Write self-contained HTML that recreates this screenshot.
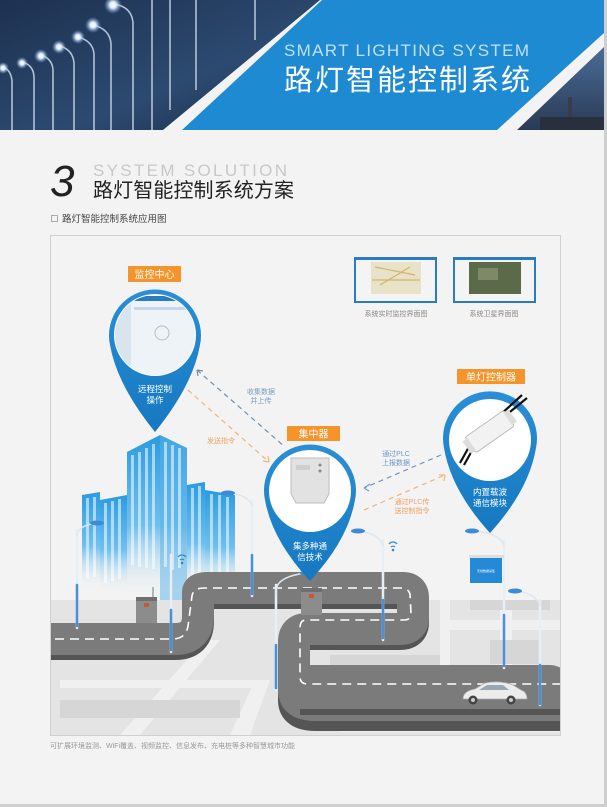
<!DOCTYPE html>
<html><head><meta charset="utf-8"><style>
html,body{margin:0;padding:0;}
body{width:607px;height:807px;overflow:hidden;background:#f3f3f3;}
svg{display:block;}
text{font-family:"Liberation Sans","Noto Sans CJK SC",sans-serif;}
</style></head><body>
<svg width="607" height="807" viewBox="0 0 607 807" xmlns="http://www.w3.org/2000/svg">
<defs>
<linearGradient id="night" x1="0" y1="0" x2="1" y2="1">
<stop offset="0" stop-color="#1d3150"/><stop offset="0.6" stop-color="#2c4a70"/><stop offset="1" stop-color="#1a2c48"/></linearGradient>
<linearGradient id="night2" x1="0" y1="0" x2="0" y2="1">
<stop offset="0" stop-color="#4a6c98"/><stop offset="1" stop-color="#2a3a55"/></linearGradient>
<radialGradient id="glow"><stop offset="0" stop-color="#ffffff"/><stop offset="0.35" stop-color="#dfeeff"/><stop offset="1" stop-color="#6f9bd0" stop-opacity="0"/></radialGradient>
<linearGradient id="bld" x1="0" y1="0" x2="0" y2="1">
<stop offset="0" stop-color="#2b9be0"/><stop offset="0.55" stop-color="#6fc0ef"/><stop offset="1" stop-color="#f3f3f3" stop-opacity="0"/></linearGradient>
<linearGradient id="pinb" x1="0" y1="0" x2="0" y2="1">
<stop offset="0" stop-color="#2a8fd6"/><stop offset="1" stop-color="#1578c0"/></linearGradient>
</defs>

<rect x="0" y="0" width="604" height="805" fill="#f3f3f3"/>
<rect x="604" y="0" width="3" height="807" fill="#cfcfcf"/>
<rect x="0" y="804" width="607" height="3" fill="#cfcfcf"/>

<polygon points="0,0 320,0 163,130 0,130" fill="url(#night)"/>
<g stroke="#c9d8ea" stroke-width="1.6" fill="none" opacity="0.85">
<path d="M113,4 q18,2 20,18 V130"/>
<path d="M93,25 q17,4 18,19 V130"/>
<path d="M78,37 q15,4 16,17 V130"/>
<path d="M60,46 q13,4 14,17 V130"/>
<path d="M41,55 q12,4 12,16 V130"/>
<path d="M22,62 q12,3 12,16 V130"/>
<path d="M3,67 q8,3 9,14 V130"/>
<path d="M152,0 V130"/><path d="M170,0 V110"/><path d="M196,0 V90"/><path d="M255,0 V40"/>
</g>
<circle cx="113" cy="5" r="9" fill="url(#glow)"/>
<circle cx="93" cy="25" r="8" fill="url(#glow)"/>
<circle cx="78" cy="37" r="7" fill="url(#glow)"/>
<circle cx="59" cy="47" r="7" fill="url(#glow)"/>
<circle cx="41" cy="56" r="7" fill="url(#glow)"/>
<circle cx="22" cy="63" r="6" fill="url(#glow)"/>
<circle cx="3" cy="68" r="6" fill="url(#glow)"/>
<polygon points="322,0 604,0 604,33 497,130 182,130" fill="#1e8ad1"/>
<polygon points="604,47 604,130 517,130" fill="url(#night2)"/>
<rect x="568" y="97" width="4" height="33" fill="#3c3c48"/>
<rect x="540" y="117" width="64" height="13" fill="#2a2f3d"/>
<text x="284" y="56" font-size="17" fill="#bfe0f6" textLength="245">SMART LIGHTING SYSTEM</text>
<text x="284" y="90" font-size="29" fill="#ffffff" textLength="246">路灯智能控制系统</text>

<text x="50" y="196" font-size="44" font-style="italic" fill="#222" font-family="Liberation Serif,serif">3</text>
<text x="93" y="176" font-size="17" fill="#c8c8c8" textLength="194">SYSTEM SOLUTION</text>
<text x="93" y="197" font-size="20" fill="#222" textLength="201">路灯智能控制系统方案</text>
<rect x="51.5" y="215.5" width="6" height="6" fill="none" stroke="#aaa" stroke-width="1"/>
<text x="62" y="222" font-size="9.5" fill="#444">路灯智能控制系统应用图</text>

<rect x="50.5" y="235.5" width="510" height="500" fill="#f3f3f3" stroke="#d0d0d0" stroke-width="1"/>
<clipPath id="fr"><rect x="51" y="236" width="509" height="499"/></clipPath>
<g clip-path="url(#fr)">
<polygon points="51,600 560,600 560,735 51,735" fill="#e4e4e4"/>
<g fill="#f0f0f0">
<polygon points="120,735 140,735 220,640 205,640"/>
<polygon points="230,735 250,735 270,680 255,680"/>
<rect x="60" y="680" width="200" height="8"/>
<rect x="340" y="725" width="220" height="7"/>
<rect x="440" y="620" width="120" height="10"/>
<rect x="440" y="600" width="10" height="70"/>
<rect x="500" y="610" width="12" height="60"/>
</g>
<g fill="#d6d6d6">
<rect x="330" y="655" width="110" height="12"/>
<rect x="60" y="700" width="180" height="18"/>
<rect x="490" y="640" width="50" height="24"/>
<rect x="470" y="600" width="80" height="10"/>
</g>

<!-- buildings -->
<g>
<polygon points="82,495 100,492 100,590 82,590" fill="url(#bld)"/>
<polygon points="100,500 127,495 127,595 100,595" fill="url(#bld)"/>
<polygon points="127,452 160,435 187,448 187,600 127,600" fill="url(#bld)"/>
<polygon points="160,435 187,448 187,600 160,600" fill="#5ab2e8" opacity="0.5"/>
<polygon points="187,485 205,482 205,595 187,595" fill="url(#bld)"/>
<polygon points="205,490 235,495 235,595 205,595" fill="url(#bld)"/>
<g fill="#ffffff" opacity="0.55">
<rect x="131" y="455" width="3" height="110"/><rect x="138" y="452" width="3" height="115"/><rect x="145" y="448" width="3" height="120"/><rect x="152" y="444" width="3" height="125"/>
<rect x="164" y="442" width="3" height="125"/><rect x="171" y="445" width="3" height="125"/><rect x="178" y="448" width="3" height="120"/>
<rect x="104" y="503" width="3" height="80"/><rect x="111" y="501" width="3" height="80"/><rect x="118" y="499" width="3" height="80"/>
<rect x="86" y="498" width="3" height="80"/><rect x="93" y="497" width="3" height="80"/>
<rect x="191" y="488" width="3" height="90"/><rect x="198" y="486" width="3" height="90"/>
<rect x="210" y="494" width="3" height="80"/><rect x="218" y="495" width="3" height="80"/><rect x="226" y="497" width="3" height="80"/>
</g>
</g>

<!-- roads -->
<g fill="none" stroke-linejoin="round">
<path d="M40,644 H175 Q198,644 198,621 V598 Q198,593 208,593 H403 Q413,593 413,603 V622 Q413,634 400,634 H307 Q294,634 294,647 V700 Q294,715 315,715 H570" stroke="#555" stroke-width="32"/>
<path d="M40,639 H175 Q198,639 198,616 V592 Q198,588 208,588 H403 Q413,588 413,598 V617 Q413,629 400,629 H307 Q294,629 294,642 V690 Q294,705 315,705 H570" stroke="#7b7b7b" stroke-width="32"/>
<rect x="278" y="665" width="292" height="45" rx="20" fill="#7b7b7b"/>
<rect x="300" y="709" width="270" height="6" fill="#555"/>
<path d="M55,639 H172 Q186,639 188,626 L192,596 Q193,588 204,588 H402 Q408,588 410,594 L411,614 Q411,620 404,620 H306 Q300,620 300,628 V677 Q300,684 308,684 H560" stroke="#ffffff" stroke-width="1.6" stroke-dasharray="9,6"/>
</g>

<!-- poles -->
<g stroke-linecap="round">
<g stroke="#e8eef5" stroke-width="2.5"><line x1="77" y1="530" x2="77" y2="628"/><line x1="171" y1="555" x2="171" y2="652"/><line x1="252" y1="500" x2="252" y2="596"/><line x1="276" y1="585" x2="276" y2="690"/><line x1="383" y1="540" x2="383" y2="640"/><line x1="504" y1="540" x2="504" y2="668"/><line x1="540" y1="600" x2="540" y2="705"/></g>
<g stroke="#4a8fd8" stroke-width="2.5"><line x1="77" y1="585" x2="77" y2="626"/><line x1="171" y1="610" x2="171" y2="650"/><line x1="252" y1="555" x2="252" y2="594"/><line x1="276" y1="645" x2="276" y2="688"/><line x1="383" y1="600" x2="383" y2="638"/><line x1="504" y1="615" x2="504" y2="666"/><line x1="540" y1="665" x2="540" y2="704"/></g>
<g stroke="#e0e6ee" stroke-width="1.5" fill="none"><path d="M252,505 q-5,-10 -22,-12"/><path d="M276,595 q-3,-18 30,-22"/><path d="M383,545 q-5,-12 -25,-14"/><path d="M504,545 q-5,-12 -30,-14"/><path d="M540,605 q-5,-12 -25,-14"/><path d="M77,535 q2,-10 20,-12"/></g>
<g fill="#3d8bd6"><ellipse cx="228" cy="493" rx="7" ry="2.5"/><ellipse cx="307" cy="573" rx="7" ry="2.5"/><ellipse cx="358" cy="531" rx="7" ry="2.5"/><ellipse cx="472" cy="531" rx="7" ry="2.5"/><ellipse cx="515" cy="591" rx="7" ry="2.5"/><ellipse cx="97" cy="523" rx="7" ry="2.5"/></g>
</g>
<g fill="none" stroke="#2d8ad4" stroke-width="1.2"><path d="M178,557 a5,5 0 0 1 8,0"/><path d="M180,560 a3,3 0 0 1 4,0"/><path d="M389,544 a5,5 0 0 1 8,0"/><path d="M391,547 a3,3 0 0 1 4,0"/></g>
<circle cx="182" cy="563" r="1.3" fill="#2d8ad4"/><circle cx="393" cy="550" r="1.3" fill="#2d8ad4"/>

<!-- cabinets -->
<rect x="136" y="597" width="21" height="26" fill="#8c8c8c"/><rect x="136" y="597" width="21" height="4" fill="#6f6f6f"/><rect x="144" y="603" width="5" height="4" fill="#c25a3a"/>
<line x1="153" y1="587" x2="153" y2="597" stroke="#777"/>
<rect x="301" y="588" width="21" height="27" fill="#8c8c8c"/><rect x="301" y="588" width="21" height="4" fill="#6f6f6f"/><rect x="309" y="594" width="5" height="4" fill="#c25a3a"/>
<rect x="469" y="555" width="35" height="3" fill="#ddd"/>
<rect x="470" y="558" width="32" height="25" fill="#2489d6"/>
<text x="486" y="572" font-size="3" fill="#fff" text-anchor="middle">无线数据采集</text>
<!-- car -->
<path d="M463,699 q0,-8 12,-10 l10,-6 q15,-3 28,2 l8,5 q6,2 6,9 z" fill="#ececec" stroke="#aaa" stroke-width="0.7"/>
<path d="M479,690 l8,-5 h16 l6,5 z" fill="#9aa6b2"/>
<circle cx="473" cy="700" r="4.5" fill="#444"/><circle cx="511" cy="700" r="4.5" fill="#444"/>
<circle cx="473" cy="700" r="2" fill="#ccc"/><circle cx="511" cy="700" r="2" fill="#ccc"/>

<!-- screenshots -->
<rect x="354" y="257" width="83" height="46" fill="#2a7bc4"/>
<rect x="356" y="260" width="79" height="41" fill="#f4f4f4"/>
<rect x="371" y="262" width="50" height="32" fill="#e8e2c8"/>
<path d="M375,267 l40,8 M380,285 l30,-18 M372,280 h48" stroke="#d4b46a" stroke-width="1.2"/>
<rect x="453" y="257" width="83" height="46" fill="#2a7bc4"/>
<rect x="455" y="260" width="79" height="41" fill="#f4f4f4"/>
<rect x="469" y="262" width="52" height="32" fill="#5b6b4a"/>
<rect x="478" y="268" width="20" height="12" fill="#7d8a68"/>
<text x="396" y="316" font-size="7" fill="#888" text-anchor="middle">系统实时监控界面图</text>
<text x="494" y="316" font-size="7" fill="#888" text-anchor="middle">系统卫星界面图</text>

<!-- dashed connectors -->
<g fill="none" stroke-width="1.2" stroke-dasharray="5,4">
<path d="M197,370 L285,447" stroke="#6f8fb0"/>
<path d="M188,390 L269,462" stroke="#f0b57a"/>
<path d="M441,455 L364,488" stroke="#6f96c8"/>
<path d="M364,510 L445,475" stroke="#f0b57a"/>
</g>
<path d="M197,370 l1,6 M197,370 l6,1" stroke="#6f8fb0" stroke-width="1.2" fill="none"/>
<path d="M269,462 l-1,-6 M269,462 l-6,-1" stroke="#f0b57a" stroke-width="1.2" fill="none"/>
<path d="M364,488 l6,-4 M364,488 l5,3" stroke="#6f96c8" stroke-width="1.2" fill="none"/>
<path d="M445,475 l-6,0 M445,475 l-1,6" stroke="#f0b57a" stroke-width="1.2" fill="none"/>
<text x="261" y="394" font-size="7" fill="#7a9ac0" text-anchor="middle">收集数据</text>
<text x="261" y="403" font-size="7" fill="#7a9ac0" text-anchor="middle">并上传</text>
<text x="221" y="443" font-size="7" fill="#f0a060" text-anchor="middle">发送指令</text>
<text x="396" y="456" font-size="7" fill="#6f96c8" text-anchor="middle">通过PLC</text>
<text x="396" y="465" font-size="7" fill="#6f96c8" text-anchor="middle">上报数据</text>
<text x="412" y="504" font-size="7" fill="#f0a060" text-anchor="middle">通过PLC传</text>
<text x="412" y="513" font-size="7" fill="#f0a060" text-anchor="middle">送控制指令</text>

<!-- pin 1 -->
<path d="M110,345 A46,46 0 1 1 200,345 Q193,385 155,432 Q117,385 110,345 Z" fill="url(#pinb)"/>
<circle cx="155" cy="335" r="41" fill="#fff"/>
<clipPath id="c1"><circle cx="155" cy="335" r="40"/></clipPath>
<g clip-path="url(#c1)">
<rect x="115" y="298" width="80" height="80" fill="#eef3f8"/>
<rect x="115" y="296" width="80" height="5" fill="#2a7bc4"/>
<rect x="115" y="301" width="16" height="75" fill="#d8e4ee"/>
<rect x="134" y="307" width="56" height="3" fill="#c7d7e6"/>
<circle cx="162" cy="333" r="7" fill="none" stroke="#bbb"/>
</g>
<text x="155" y="392" font-size="8.5" fill="#fff" text-anchor="middle">远程控制</text>
<text x="155" y="403" font-size="8.5" fill="#fff" text-anchor="middle">操作</text>
<rect x="128" y="266" width="53" height="16" fill="#f5942a"/>
<text x="154.5" y="278" font-size="10" fill="#fff" text-anchor="middle">监控中心</text>

<!-- pin 2 -->
<path d="M265,500 A46,46 0 1 1 355,500 Q348,540 310,581 Q272,540 265,500 Z" fill="url(#pinb)"/>
<circle cx="310" cy="491" r="41" fill="#fff"/>
<path d="M291,458 h38 v36 l-5,9 h-28 l-5,-9 z" fill="#e2e2e2" stroke="#bdbdbd"/>
<rect x="296" y="465" width="14" height="5" fill="#cfcfcf"/>
<circle cx="320" cy="465" r="1.5" fill="#888"/><circle cx="320" cy="471" r="1.5" fill="#888"/>
<text x="310" y="549" font-size="8.5" fill="#fff" text-anchor="middle">集多种通</text>
<text x="310" y="560" font-size="8.5" fill="#fff" text-anchor="middle">信技术</text>
<rect x="287" y="426" width="53" height="15" fill="#f5942a"/>
<text x="313.5" y="437.5" font-size="10" fill="#fff" text-anchor="middle">集中器</text>

<!-- pin 3 -->
<path d="M444,448 A47,47 0 1 1 536,448 Q529,490 490,533 Q451,490 444,448 Z" fill="url(#pinb)"/>
<circle cx="490" cy="440" r="41" fill="#fff"/>
<path d="M500,415 L522,395 M505,416 L527,398 M470,445 L460,463 M474,447 L464,465" stroke="#111" stroke-width="2.2"/>
<g transform="rotate(-35 490 432)"><rect x="466" y="422" width="48" height="19" rx="3" fill="#f2f2f2" stroke="#bbb"/><rect x="462" y="424" width="6" height="15" fill="#ddd"/><rect x="512" y="424" width="6" height="15" fill="#ddd"/></g>
<text x="490" y="495" font-size="8.5" fill="#fff" text-anchor="middle">内置载波</text>
<text x="490" y="506" font-size="8.5" fill="#fff" text-anchor="middle">通信模块</text>
<rect x="457" y="369" width="68" height="15" fill="#f5942a"/>
<text x="491" y="380.5" font-size="10" fill="#fff" text-anchor="middle">单灯控制器</text>
</g>

<text x="50" y="748" font-size="7" fill="#999">可扩展环境监测、WiFi覆盖、视频监控、信息发布、充电桩等多种智慧城市功能</text>
</svg>
</body></html>
